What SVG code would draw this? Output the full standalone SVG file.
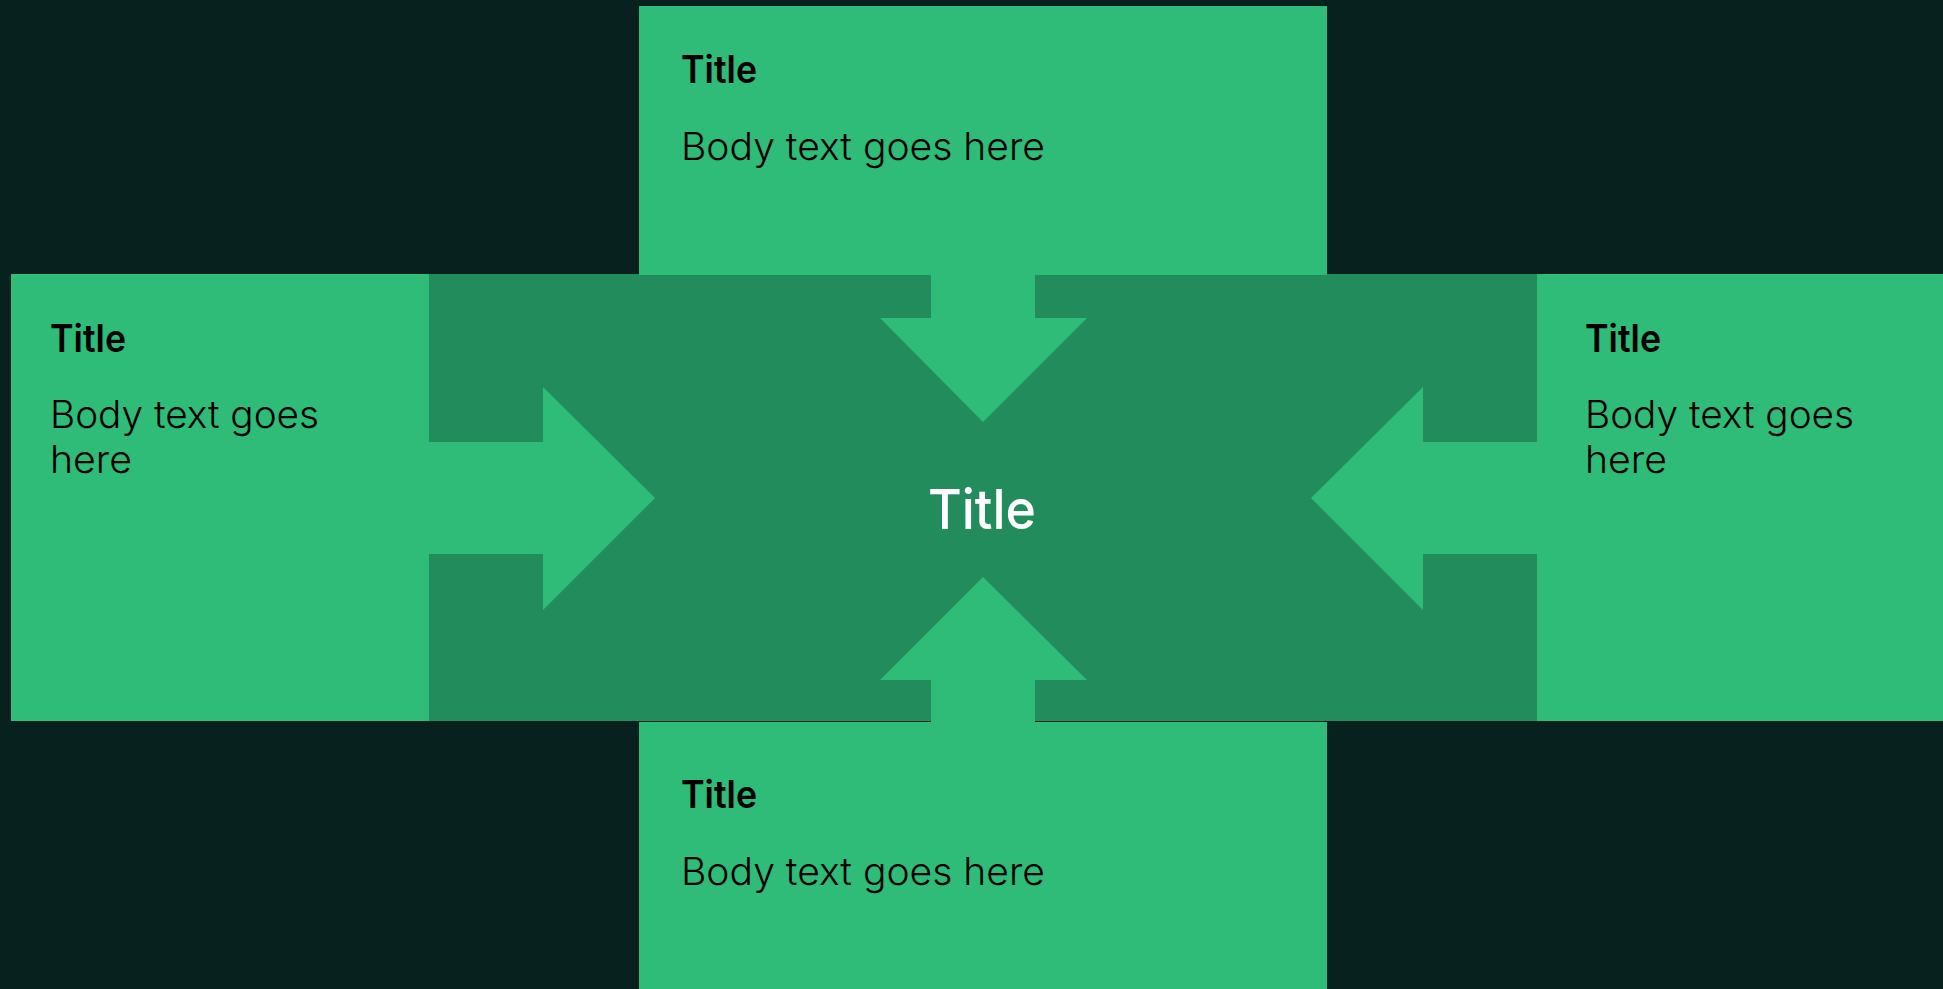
<svg xmlns="http://www.w3.org/2000/svg" width="1943" height="989" viewBox="0 0 1943 989">
  <style>
    .box { fill: #2FBC78; }
    .hub { fill: #238C5D; }
    .arrow { fill: #2FBC78; }
    .t { font-family: Inter, "Noto Sans", "Liberation Sans", sans-serif; font-size: 38px; font-weight: 600; fill: #000000; }
    .b { font-family: Inter, "Noto Sans", "Liberation Sans", sans-serif; font-size: 38px; font-weight: 300; fill: #000000; }
    .c { font-family: Inter, "Noto Sans", "Liberation Sans", sans-serif; font-size: 55px; font-weight: 500; fill: #FFFFFF; }
  </style>
  <rect x="0" y="0" width="1943" height="989" fill="#07211E"/>

  <g id="hub">
    <rect class="hub" x="429" y="274" width="1108" height="447"/>
    <text class="c" x="928" y="529" textLength="108" lengthAdjust="spacingAndGlyphs">Title</text>
  </g>

  <g id="node-top">
    <rect class="box" x="639" y="6" width="688" height="269"/>
    <text class="t" x="681" y="83" textLength="76" lengthAdjust="spacingAndGlyphs">Title</text>
    <text class="b" x="681" y="160" textLength="364" lengthAdjust="spacingAndGlyphs">Body text goes here</text>
  </g>

  <g id="node-left">
    <rect class="box" x="11" y="274" width="418" height="447"/>
    <text class="t" x="50" y="352" textLength="76" lengthAdjust="spacingAndGlyphs">Title</text>
    <text class="b" x="50" y="428" textLength="269" lengthAdjust="spacingAndGlyphs">Body text goes</text>
    <text class="b" x="50" y="473" textLength="82" lengthAdjust="spacingAndGlyphs">here</text>
  </g>

  <g id="node-right">
    <rect class="box" x="1537" y="274" width="406" height="447"/>
    <text class="t" x="1585" y="352" textLength="76" lengthAdjust="spacingAndGlyphs">Title</text>
    <text class="b" x="1585" y="428" textLength="269" lengthAdjust="spacingAndGlyphs">Body text goes</text>
    <text class="b" x="1585" y="473" textLength="82" lengthAdjust="spacingAndGlyphs">here</text>
  </g>

  <g id="node-bottom">
    <rect class="box" x="639" y="722" width="688" height="267"/>
    <text class="t" x="681" y="808" textLength="76" lengthAdjust="spacingAndGlyphs">Title</text>
    <text class="b" x="681" y="885" textLength="364" lengthAdjust="spacingAndGlyphs">Body text goes here</text>
  </g>

  <g id="connectors">
    <polygon class="arrow" points="931,274 1035,274 1035,318 1087,318 983,422 880,318 931,318"/>
    <polygon class="arrow" points="931,722 1035,722 1035,680 1087,680 983,577 880,680 931,680"/>
    <polygon class="arrow" points="429,442 543,442 543,387 655,498 543,610 543,554 429,554"/>
    <polygon class="arrow" points="1537,442 1423,442 1423,387 1311,498 1423,610 1423,554 1537,554"/>
  </g>
</svg>
